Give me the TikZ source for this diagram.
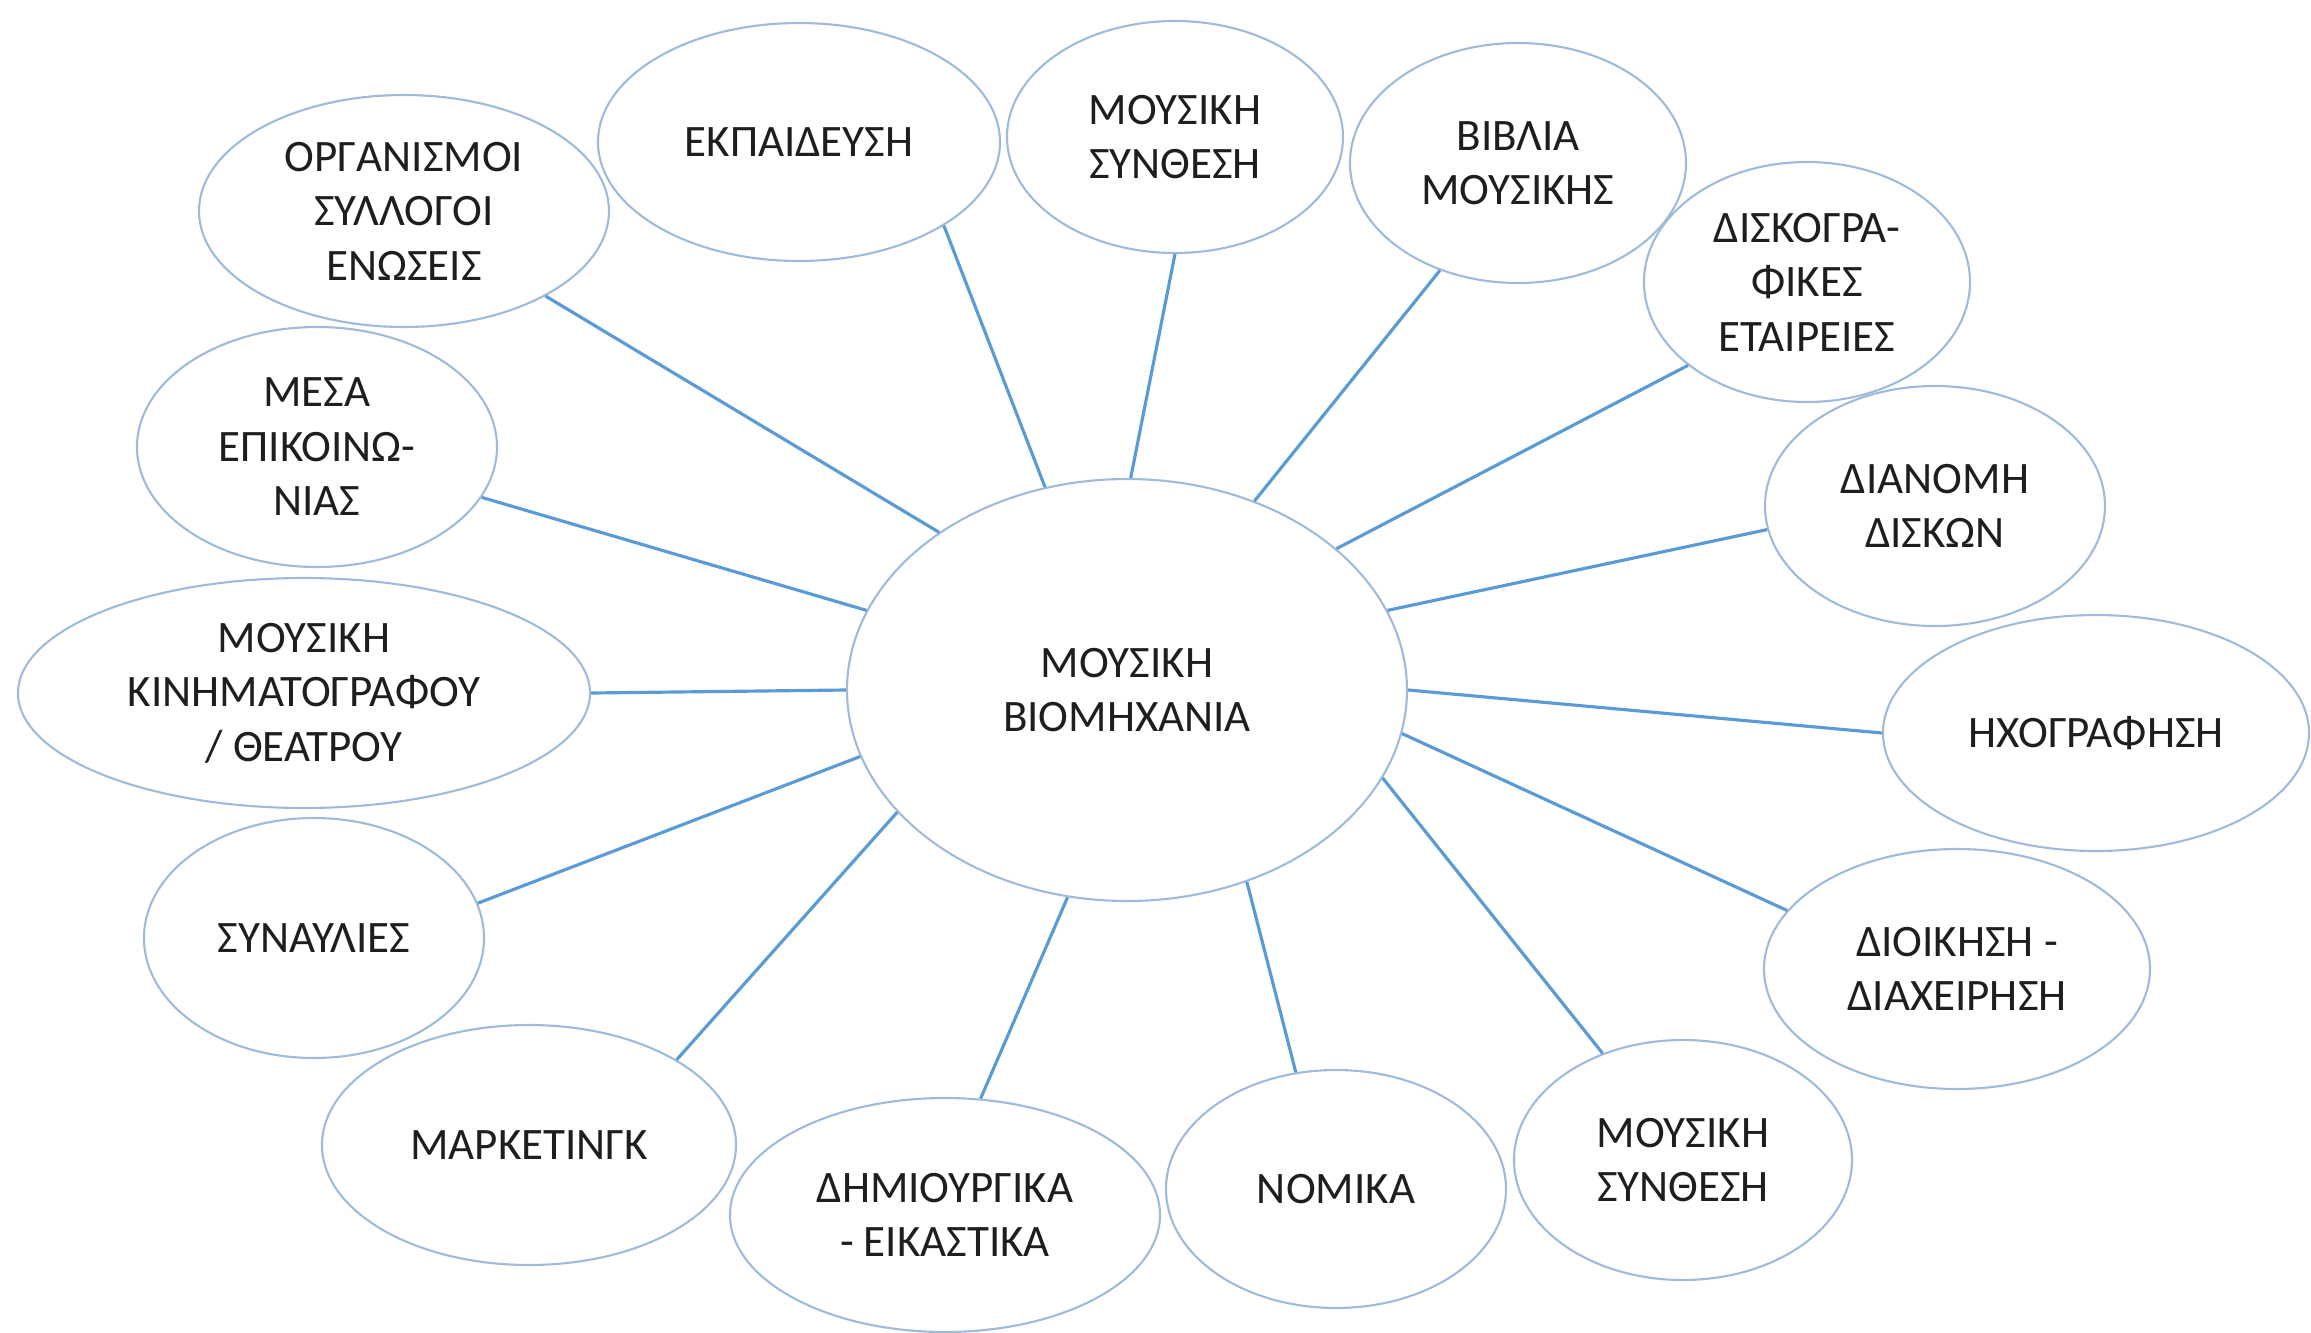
\documentclass[tikz,border=0pt]{standalone}
\usepackage{fontspec}
\setmainfont{Carlito}
\usetikzlibrary{shapes.geometric}
\definecolor{ellcol}{RGB}{160,186,218}
\definecolor{lincol}{RGB}{91,155,213}
\definecolor{txtcol}{RGB}{30,30,30}
\tikzset{
  bub/.style={ellipse, draw=ellcol, line width=0.6pt, inner sep=0pt, align=center,
    text=txtcol, font=\fontsize{12.8}{15.5}\selectfont},
  conn/.style={draw=lincol, line width=0.9pt}
}
\begin{document}
\begin{tikzpicture}
\useasboundingbox (0,0) rectangle (23.11,-13.33);
\node[bub, minimum width=5.60cm, minimum height=4.22cm] (c) at (11.27,-6.90) {ΜΟΥΣΙΚΗ\\ΒΙΟΜΗΧΑΝΙΑ};
\node[bub, minimum width=4.10cm, minimum height=2.32cm] (org) at (4.04,-2.11) {ΟΡΓΑΝΙΣΜΟΙ\\ΣΥΛΛΟΓΟΙ\\ΕΝΩΣΕΙΣ};
\node[bub, minimum width=4.02cm, minimum height=2.38cm] (ekp) at (7.99,-1.42) {ΕΚΠΑΙΔΕΥΣΗ};
\node[bub, minimum width=3.36cm, minimum height=2.32cm] (ms1) at (11.75,-1.37) {ΜΟΥΣΙΚΗ\\ΣΥΝΘΕΣΗ};
\node[bub, minimum width=3.36cm, minimum height=2.40cm] (bib) at (15.18,-1.63) {ΒΙΒΛΙΑ\\ΜΟΥΣΙΚΗΣ};
\node[bub, minimum width=3.26cm, minimum height=2.40cm] (disk) at (18.07,-2.82) {ΔΙΣΚΟΓΡΑ-\\ΦΙΚΕΣ\\ΕΤΑΙΡΕΙΕΣ};
\node[bub, minimum width=3.40cm, minimum height=2.40cm] (dian) at (19.35,-5.06) {ΔΙΑΝΟΜΗ\\ΔΙΣΚΩΝ};
\node[bub, minimum width=4.26cm, minimum height=2.36cm] (hxo) at (20.96,-7.33) {ΗΧΟΓΡΑΦΗΣΗ};
\node[bub, minimum width=3.86cm, minimum height=2.40cm] (dioik) at (19.57,-9.69) {ΔΙΟΙΚΗΣΗ -\\ΔΙΑΧΕΙΡΗΣΗ};
\node[bub, minimum width=3.38cm, minimum height=2.40cm] (ms2) at (16.83,-11.60) {ΜΟΥΣΙΚΗ\\ΣΥΝΘΕΣΗ};
\node[bub, minimum width=3.40cm, minimum height=2.38cm] (nom) at (13.36,-11.89) {ΝΟΜΙΚΑ};
\node[bub, minimum width=4.30cm, minimum height=2.34cm] (dim) at (9.45,-12.15) {ΔΗΜΙΟΥΡΓΙΚΑ\\- ΕΙΚΑΣΤΙΚΑ};
\node[bub, minimum width=4.14cm, minimum height=2.40cm] (mark) at (5.29,-11.45) {ΜΑΡΚΕΤΙΝΓΚ};
\node[bub, minimum width=3.40cm, minimum height=2.40cm] (syn) at (3.14,-9.38) {ΣΥΝΑΥΛΙΕΣ};
\node[bub, minimum width=5.72cm, minimum height=2.30cm] (kin) at (3.04,-6.93) {ΜΟΥΣΙΚΗ\\ΚΙΝΗΜΑΤΟΓΡΑΦΟΥ\\/ ΘΕΑΤΡΟΥ};
\node[bub, minimum width=3.60cm, minimum height=2.40cm] (mesa) at (3.17,-4.47) {ΜΕΣΑ\\ΕΠΙΚΟΙΝΩ-\\ΝΙΑΣ};
\draw[conn] (c.140.8) -- (org.-31.1);
\draw[conn] (c.112.5) -- (ekp.-30.6);
\draw[conn] (c.89.7) -- (ms1.-90);
\draw[conn] (c.56) -- (bib.-126.9);
\draw[conn] (c.34.9) -- (disk.215.6);
\draw[conn] (c.17.3) -- (dian.188.2);
\draw[conn] (c.0) -- (hxo.180);
\draw[conn] (c.-9.7) -- (dioik.161.9);
\draw[conn] (c.-19.1) -- (ms2.127.1);
\draw[conn] (c.-58.6) -- (nom.109.7);
\draw[conn] (c.254.9) -- (dim.73.6);
\draw[conn] (c.208.5) -- (mark.30.7);
\draw[conn] (c.194.8) -- (syn.12.4);
\draw[conn] (c.180) -- (kin.0);
\draw[conn] (c.163.6) -- (mesa.-17.5);
\end{tikzpicture}
\end{document}
